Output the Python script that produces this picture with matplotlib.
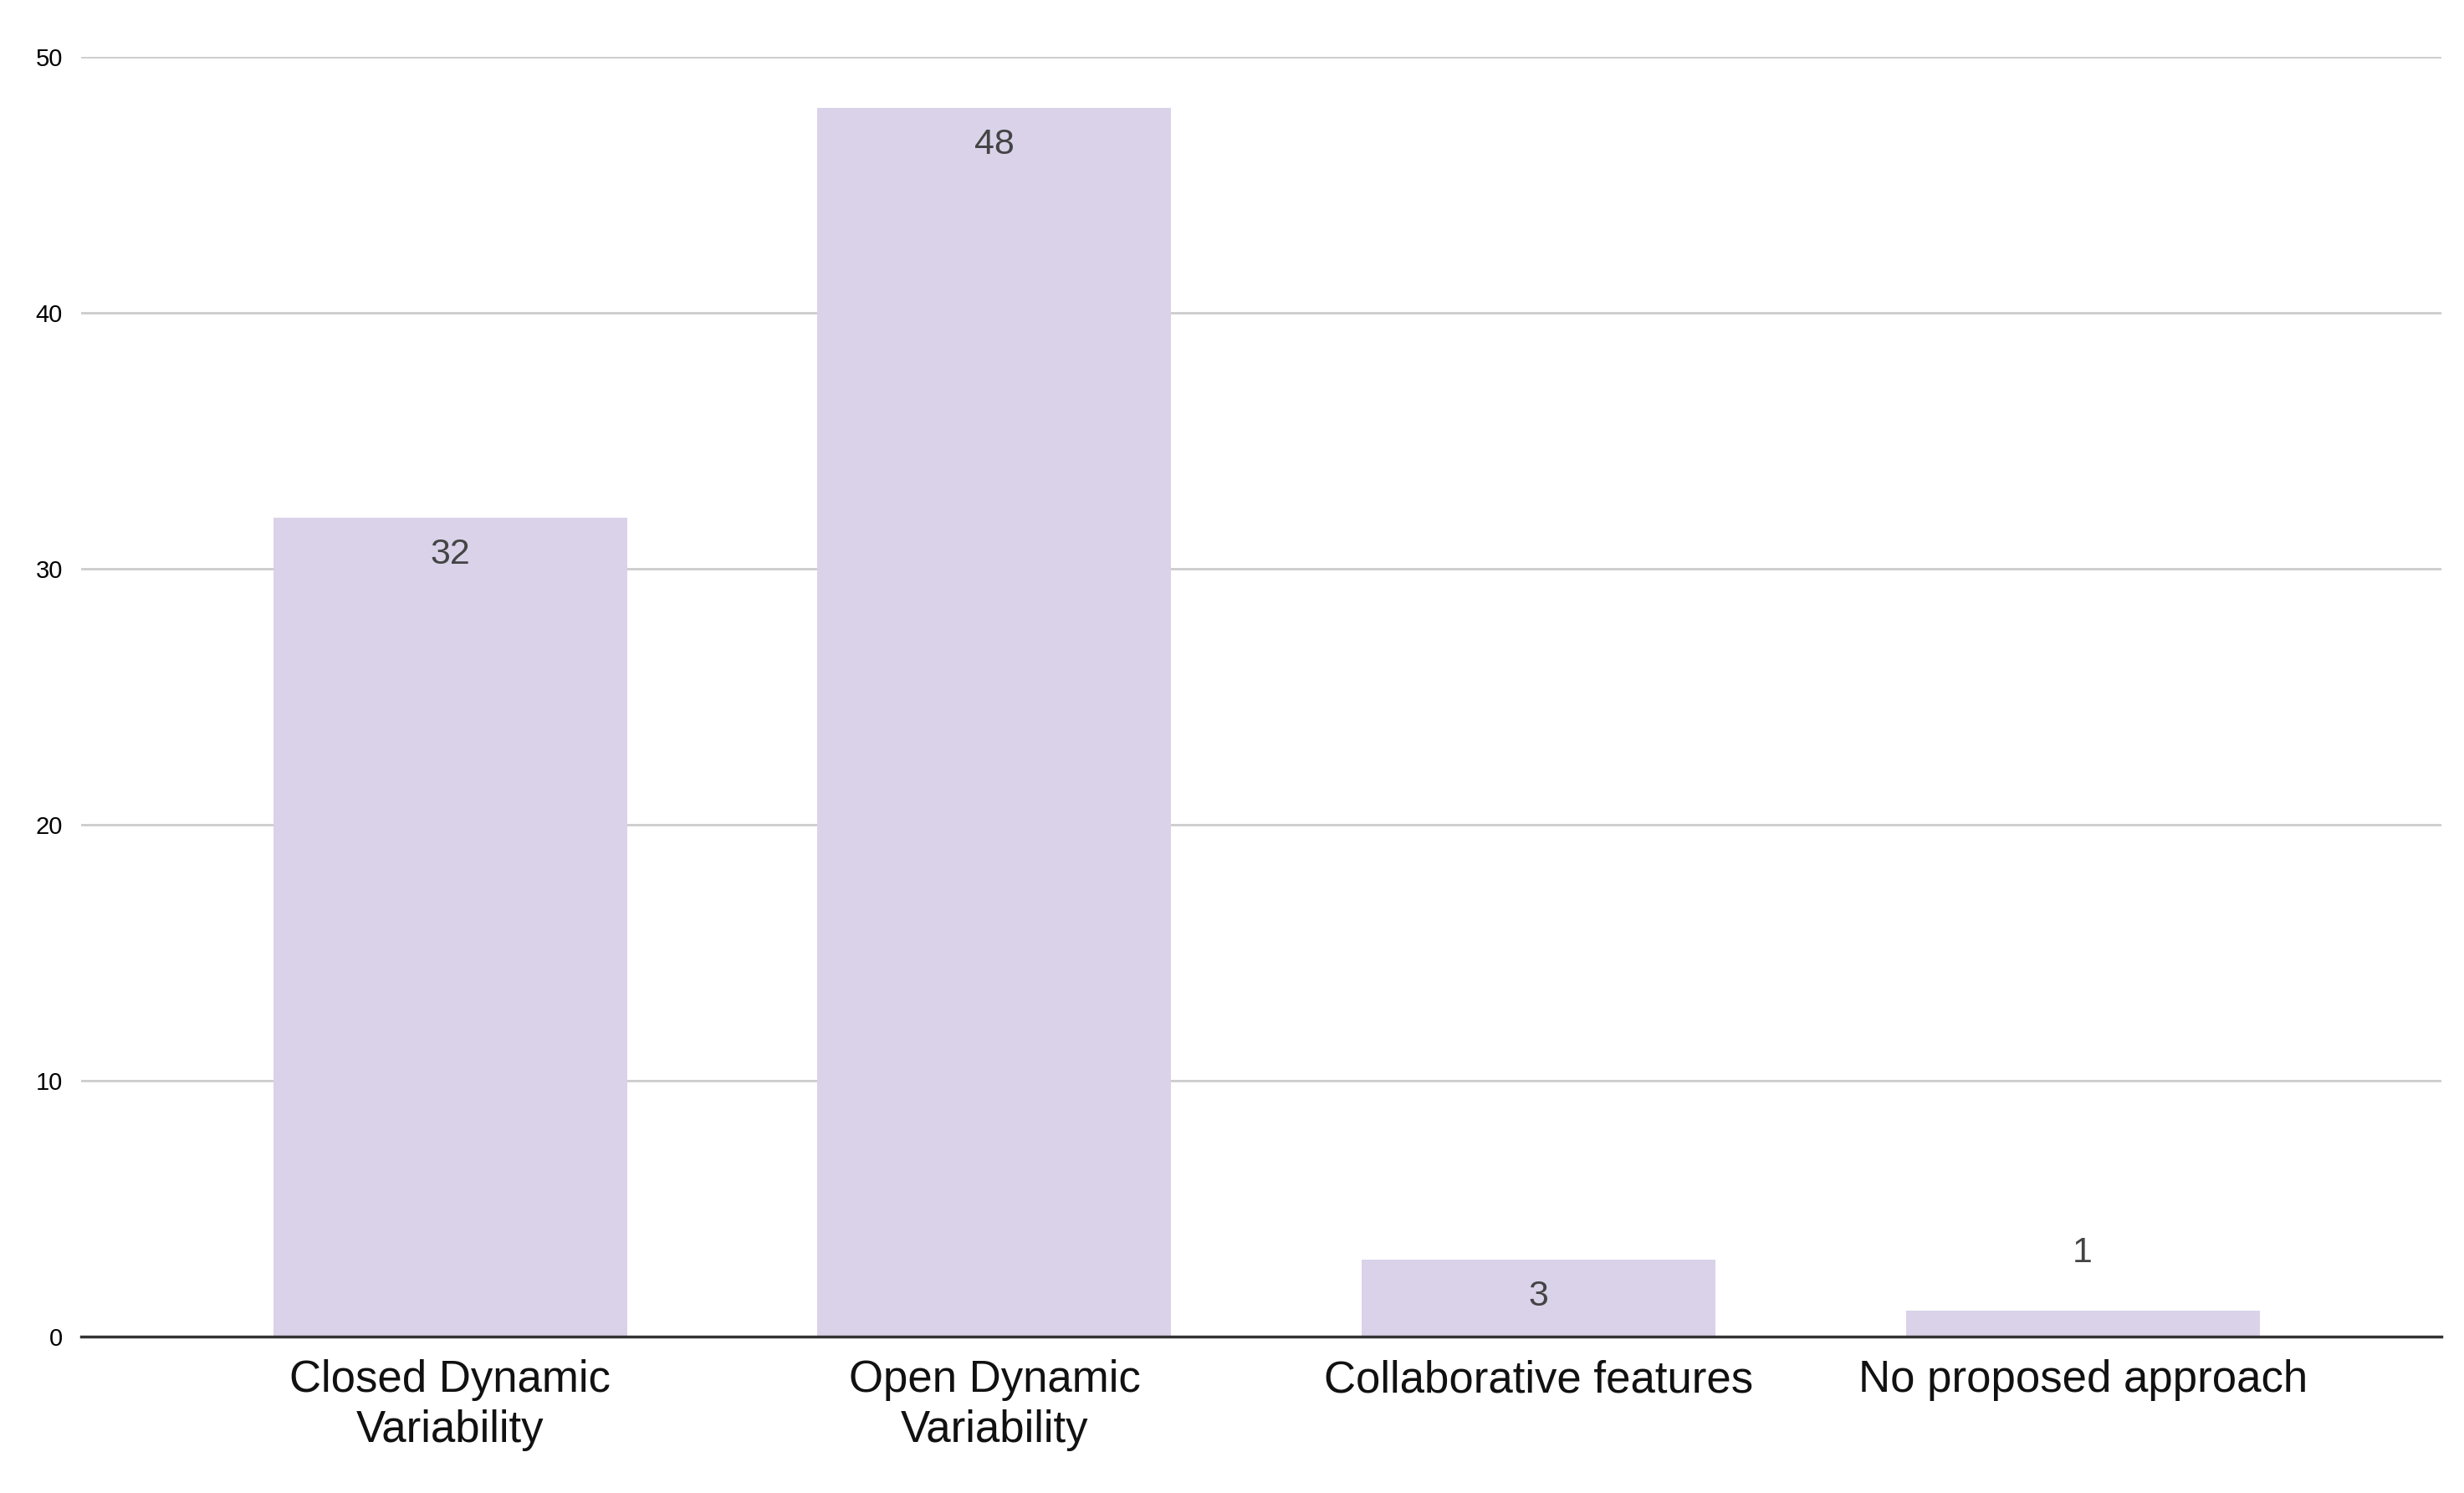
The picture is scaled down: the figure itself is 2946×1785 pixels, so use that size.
import numpy as np
import matplotlib.pyplot as plt

categories = ["Closed Dynamic\nVariability", "Open Dynamic\nVariability",
              "Collaborative features", "No proposed approach"]
counts = [32, 48, 3, 1]

plt.rcParams['font.family'] = ['Liberation Sans', 'DejaVu Sans']

fig = plt.figure(figsize=(29.46, 17.85), dpi=100)
ax = fig.add_axes([0.033, 0.105, 0.958, 0.857])

x = np.arange(len(categories))
ax.bar(x, counts, width=0.65, color="#d9d2e9", zorder=3)

for xi, v in zip(x, counts):
    if v >= 3:
        ax.text(xi, v - 0.8, str(v), ha="center", va="top", fontsize=31, color="#444444", zorder=4)
    else:
        ax.text(xi, v + 1.6, str(v), ha="center", va="bottom", fontsize=31, color="#444444", zorder=4)

ax.set_xlim(-0.678, 3.66)
ax.set_ylim(0, 50)
ax.set_yticks([0, 10, 20, 30, 40, 50])
ax.yaxis.grid(True, color="#cccccc", linewidth=2, zorder=0)
ax.set_xticks(x)
ax.set_xticklabels(categories, fontsize=38, color="#111111", linespacing=1.25)
ax.tick_params(axis="x", length=0, pad=20)
ax.tick_params(axis="y", length=0, labelsize=21, pad=16)
for s in ["top", "right", "left"]:
    ax.spines[s].set_visible(False)
ax.spines["bottom"].set_color("#333333")
ax.spines["bottom"].set_linewidth(2.5)
ax.spines["bottom"].set_zorder(5)

fig.savefig("out.png", dpi=100)
